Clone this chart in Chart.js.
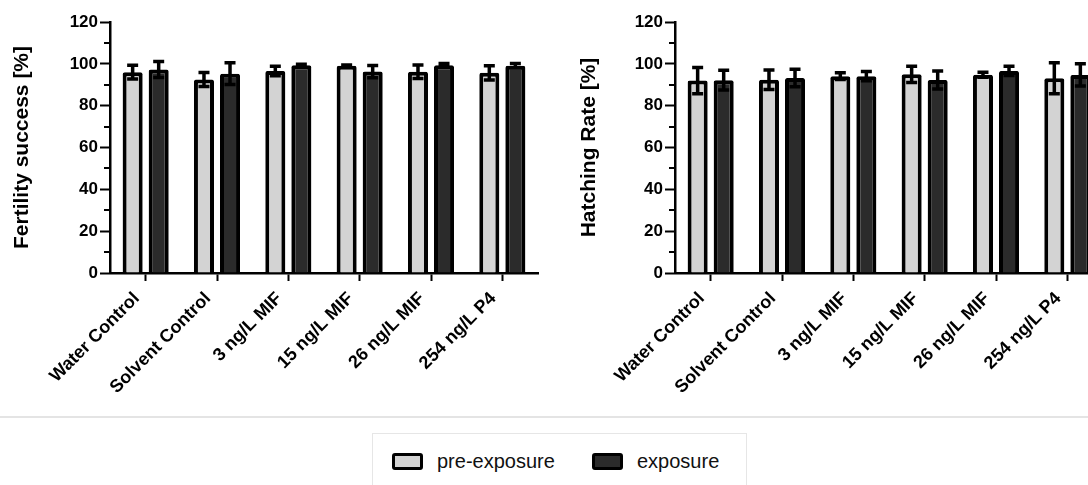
<!DOCTYPE html>
<html>
<head>
<meta charset="utf-8">
<script src="https://cdn.jsdelivr.net/npm/chart.js@4.4.1/dist/chart.umd.min.js"></script>
<style>
  html, body { margin: 0; padding: 0; background: #fff; }
  body { width: 1088px; height: 485px; overflow: hidden; position: relative;
         font-family: "Liberation Sans", Arial, sans-serif; }
  .panel { position: absolute; top: 0; width: 560px; height: 405px; }
  #fertilityPanel { left: 0; }
  #hatchingPanel { left: 565px; }
  #divider { position: absolute; left: 0; top: 416px; width: 1088px; border-top: 2px solid #e4e4e4; }
  #legend { position: absolute; left: 372px; top: 433px; width: 375px; height: 70px;
            border: 1px solid #e6e6e6; box-sizing: border-box; }
  .item { position: absolute; top: 19px; display: flex; align-items: center; }
  .swatch { width: 31px; height: 17px; box-sizing: border-box; border: 3px solid #000;
            border-radius: 3px; margin-right: 14px; }
  .label { font-size: 20px; color: #111; line-height: 17px; }
</style>
</head>
<body>
<div class="panel" id="fertilityPanel"><canvas id="fertility" width="560" height="405"></canvas></div>
<div class="panel" id="hatchingPanel"><canvas id="hatching" width="560" height="405"></canvas></div>
<div id="divider"></div>
<div id="legend"></div>
<script>
// Treatment groups and series
const categories = ['Water Control', 'Solvent Control', '3 ng/L MIF', '15 ng/L MIF', '26 ng/L MIF', '254 ng/L P4'];
const seriesNames = ['pre-exposure', 'exposure'];
const seriesColors = ['#d3d3d3', '#2b2b2b'];

// Fertility success [%] (mean and error)
const fertilityPre = [96.0, 92.5, 96.6, 99.1, 96.2, 95.7];
const fertilityPreErr = [3.3, 3.3, 2.3, 0.4, 3.2, 3.4];
const fertilityExp = [97.3, 95.3, 99.3, 96.3, 99.3, 99.1];
const fertilityExpErr = [3.8, 5.2, 0.5, 2.9, 0.8, 1.0];

// Hatching rate [%] (mean and error)
const hatchingPre = [92.0, 92.4, 94.1, 95.0, 94.8, 93.1];
const hatchingPreErr = [6.3, 4.7, 1.6, 3.9, 1.2, 7.4];
const hatchingExp = [92.2, 93.2, 94.1, 92.3, 96.6, 94.7];
const hatchingExpErr = [4.7, 4.2, 2.2, 4.3, 2.2, 5.3];

// Axis ticks
const yTicks = [0, 20, 40, 60, 80, 100, 120];
const yMinorTicks = [10, 30, 50, 70, 90, 110];

const FONT = '"Liberation Sans", Arial, sans-serif';

// Error bars drawn over each bar
const errorBars = {
  id: 'errorBars',
  afterDatasetsDraw(chart) {
    const ctx = chart.ctx;
    const y = chart.scales.y;
    chart.data.datasets.forEach((ds, di) => {
      const meta = chart.getDatasetMeta(di);
      meta.data.forEach((bar, i) => {
        const v = ds.data[i], e = ds.errors[i];
        const top = y.getPixelForValue(v + e);
        const bot = y.getPixelForValue(v - e);
        const half = 5.5;
        ctx.save();
        ctx.strokeStyle = '#000';
        ctx.lineWidth = 3.5;
        ctx.lineCap = 'butt';
        ctx.beginPath();
        ctx.moveTo(bar.x, top); ctx.lineTo(bar.x, bot);
        ctx.moveTo(bar.x - half, top); ctx.lineTo(bar.x + half, top);
        ctx.moveTo(bar.x - half, bot); ctx.lineTo(bar.x + half, bot);
        ctx.stroke();
        ctx.restore();
      });
    });
  }
};

// Short unlabeled ticks between the labeled ones on the value axis
const minorTicks = {
  id: 'minorTicks',
  afterDraw(chart) {
    const ctx = chart.ctx;
    const y = chart.scales.y;
    const x0 = chart.chartArea.left;
    ctx.save();
    ctx.strokeStyle = '#000';
    ctx.lineWidth = 2;
    ctx.beginPath();
    yMinorTicks.forEach(v => {
      const py = Math.round(y.getPixelForValue(v));
      ctx.moveTo(x0 - 6, py); ctx.lineTo(x0, py);
    });
    ctx.stroke();
    ctx.restore();
  }
};

function makeChart(id, title, pre, preErr, exp, expErr, titlePad) {
  const barStyle = { borderColor: '#000', borderWidth: 4, borderRadius: 2,
                     categoryPercentage: 0.73, barPercentage: 0.77 };
  return new Chart(document.getElementById(id), {
    type: 'bar',
    data: {
      labels: categories,
      datasets: [
        Object.assign({ label: seriesNames[0], data: pre, errors: preErr, backgroundColor: seriesColors[0] }, barStyle),
        Object.assign({ label: seriesNames[1], data: exp, errors: expErr, backgroundColor: seriesColors[1] }, barStyle)
      ]
    },
    options: {
      responsive: false,
      animation: false,
      events: [],
      layout: { padding: { top: 22, right: 22, left: 0, bottom: 0 } },
      plugins: { legend: { display: false }, tooltip: { enabled: false } },
      scales: {
        x: {
          grid: { offset: false, drawOnChartArea: false, drawTicks: true, tickLength: 8, tickWidth: 2, tickColor: '#000' },
          border: { color: '#000', width: 2.5 },
          ticks: { color: '#000', font: { family: FONT, size: 18, weight: 'bold' },
                   maxRotation: 45, minRotation: 45, padding: 7, labelOffset: -9, autoSkip: false },
          afterFit(s) { s.height = 132; }
        },
        y: {
          min: 0, max: 120,
          afterBuildTicks(s) { s.ticks = yTicks.map(v => ({ value: v })); },
          grid: { drawOnChartArea: false, tickLength: 10, tickWidth: 2, tickColor: '#000' },
          border: { color: '#000', width: 2.5 },
          ticks: { color: '#000', font: { family: FONT, size: 17, weight: 'bold' }, padding: 2 },
          title: { display: true, text: title, color: '#000',
                   font: { family: FONT, size: 21, weight: 'bold' }, padding: { top: titlePad, bottom: 0 } },
          afterFit(s) { s.width = 110; }
        }
      }
    },
    plugins: [errorBars, minorTicks]
  });
}

makeChart('fertility', 'Fertility success [%]', fertilityPre, fertilityPreErr, fertilityExp, fertilityExpErr, 10);
makeChart('hatching', 'Hatching Rate [%]', hatchingPre, hatchingPreErr, hatchingExp, hatchingExpErr, 12);

// Shared legend below both panels
const legend = document.getElementById('legend');
const itemLeft = [19, 219];
seriesNames.forEach((name, i) => {
  const item = document.createElement('div');
  item.className = 'item';
  item.style.left = itemLeft[i] + 'px';
  const sw = document.createElement('div');
  sw.className = 'swatch';
  sw.style.background = seriesColors[i];
  const lb = document.createElement('div');
  lb.className = 'label';
  lb.textContent = name;
  item.appendChild(sw); item.appendChild(lb);
  legend.appendChild(item);
});
</script>
</body>
</html>
